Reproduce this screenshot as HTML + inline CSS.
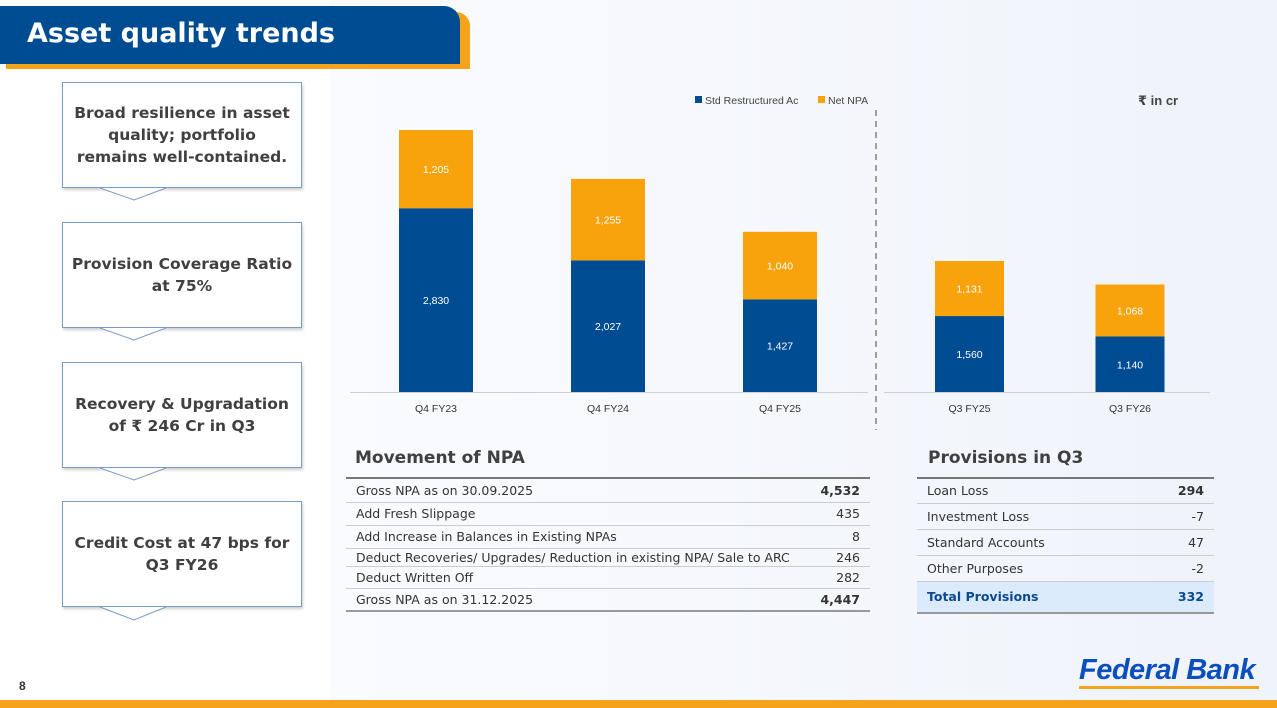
<!DOCTYPE html>
<html><head><meta charset="utf-8">
<style>
body{margin:0;width:1277px;height:708px;overflow:hidden;background:#fff;font-family:"Liberation Sans","DejaVu Sans",sans-serif;position:relative}
.abs{position:absolute}
.bg{left:330px;top:0;width:947px;height:700px;background:linear-gradient(90deg,#fafbfe,#eff3fa)}
.call{position:absolute;left:62px;width:238px;height:104px;border:1px solid #7a9cc4;background:#fff;box-shadow:1px 2px 3px rgba(0,0,0,.2);display:flex;align-items:center;justify-content:center;text-align:center;font-family:"DejaVu Sans",sans-serif;font-weight:bold;font-size:15.5px;line-height:22px;color:#404040}
table{border-collapse:collapse;font-family:"DejaVu Sans",sans-serif;font-size:12.5px;color:#333}
td{padding:0 10px}
h2{margin:0;font-family:"DejaVu Sans",sans-serif;font-size:17px;color:#404040;position:absolute}
</style></head><body>
<div class="abs bg"></div>
<div class="abs" style="left:6px;top:12px;width:464px;height:57px;background:#f5a31a;border-radius:0 14px 0 0"></div>
<div class="abs" style="left:0;top:6px;width:460px;height:58px;background:#004c93;border-radius:0 16px 0 0"></div>
<div class="abs" style="left:27px;top:18px;color:#fff;font-family:'DejaVu Sans',sans-serif;font-weight:bold;font-size:27px">Asset quality trends</div>

<div class="call" style="top:82px">Broad resilience in asset<br>quality; portfolio<br>remains well-contained.</div>
<div class="call" style="top:222px">Provision Coverage Ratio<br>at 75%</div>
<div class="call" style="top:362px">Recovery &amp; Upgradation<br>of ₹ 246 Cr in Q3</div>
<div class="call" style="top:501px">Credit Cost at 47 bps for<br>Q3 FY26</div>
<svg class="abs" style="left:0;top:0" width="330" height="640">
<g fill="#fff" stroke="#7a9cc4" stroke-width="1">
<polyline points="100,188 134,200 166,188"/><polyline points="100,328 134,340 166,328"/><polyline points="100,468 134,480 166,468"/><polyline points="100,607 134,620 166,607"/>
</g></svg>

<svg class="abs" id="chart" style="left:0;top:0" width="1277" height="440"></svg>

<h2 style="left:355px;top:448px">Movement of NPA</h2>
<table class="abs" style="left:346px;top:477px;width:524px;border-top:2px solid #777;border-bottom:2px solid #999">
<tr style="height:24px;border-bottom:1px solid #ccc"><td>Gross NPA as on 30.09.2025</td><td style="text-align:right;font-weight:bold">4,532</td></tr>
<tr style="height:23px;border-bottom:1px solid #ccc"><td>Add Fresh Slippage</td><td style="text-align:right">435</td></tr>
<tr style="height:23px;border-bottom:1px solid #ccc"><td>Add Increase in Balances in Existing NPAs</td><td style="text-align:right">8</td></tr>
<tr style="height:18px;border-bottom:1px solid #ccc"><td>Deduct Recoveries/ Upgrades/ Reduction in existing NPA/ Sale to ARC</td><td style="text-align:right">246</td></tr>
<tr style="height:22px;border-bottom:1px solid #ccc"><td>Deduct Written Off</td><td style="text-align:right">282</td></tr>
<tr style="height:23px"><td>Gross NPA as on 31.12.2025</td><td style="text-align:right;font-weight:bold">4,447</td></tr>
</table>

<h2 style="left:928px;top:448px">Provisions in Q3</h2>
<table class="abs" style="left:917px;top:477px;width:297px;border-top:2px solid #777;border-bottom:2px solid #999">
<tr style="height:25px;border-bottom:1px solid #ccc"><td>Loan Loss</td><td style="text-align:right;font-weight:bold">294</td></tr>
<tr style="height:26px;border-bottom:1px solid #ccc"><td>Investment Loss</td><td style="text-align:right">-7</td></tr>
<tr style="height:26px;border-bottom:1px solid #ccc"><td>Standard Accounts</td><td style="text-align:right">47</td></tr>
<tr style="height:26px;border-bottom:1px solid #ccc"><td>Other Purposes</td><td style="text-align:right">-2</td></tr>
<tr style="height:32px;background:#dcebfb;color:#0b4a8f;font-weight:bold"><td>Total Provisions</td><td style="text-align:right">332</td></tr>
</table>

<div class="abs" style="left:19px;top:679px;font-size:12px;font-weight:bold;color:#333">8</div>
<div class="abs" style="left:1079px;top:654px;white-space:nowrap;font-family:'Liberation Sans',sans-serif;font-style:italic;font-weight:bold;font-size:29px;color:#0a4fbd;letter-spacing:-0.5px">Federal Bank</div>
<div class="abs" style="left:1079px;top:686px;width:180px;height:3px;background:#f5a31a"></div>
<div class="abs" style="left:0;top:700px;width:1277px;height:8px;background:#f5a31a"></div>

<script>
const categories=["Q4 FY23","Q4 FY24","Q4 FY25","Q3 FY25","Q3 FY26"];
const stdRestructured=[2830,2027,1427,1560,1140];
const netNPA=[1205,1255,1040,1131,1068];
const seriesNames=["Std Restructured Ac","Net NPA"];
const colors=["#004c93","#f8a20c"];
const svg=document.getElementById('chart');
const NS='http://www.w3.org/2000/svg';
const base=392;
const scales=[262/4035,262/4035,262/4035,131/2691,131/2691];
const centers=[436,608,780,969.5,1130];
const widths=[74,74,74,69,69];
function mk(t,a){const e=document.createElementNS(NS,t);for(const k in a)e.setAttribute(k,a[k]);svg.appendChild(e);return e;}
function fmt(v){return v.toLocaleString('en-US');}
categories.forEach((c,i)=>{
  const y=v=>base-v*scales[i];
  const x=centers[i]-widths[i]/2;
  const s=stdRestructured[i], n=netNPA[i];
  const b1=mk('rect',{x:x,y:y(s),width:widths[i],height:base-y(s),fill:colors[0]});
  
  
  const b2=mk('rect',{x:x,y:y(s+n),width:widths[i],height:y(s)-y(s+n),fill:colors[1]});
  
  
  const t1=mk('text',{x:centers[i],y:(y(s)+base)/2+4,'text-anchor':'middle','font-size':'10.5',fill:'#fff'});
  t1.textContent=fmt(s);
  
  
  const t2=mk('text',{x:centers[i],y:(y(s+n)+y(s))/2+4,'text-anchor':'middle','font-size':'10.5',fill:'#fff'});
  t2.textContent=fmt(n);
  
  
  const xl=mk('text',{x:centers[i],y:412,'text-anchor':'middle','font-size':'10.5',fill:'#333'});
  xl.textContent=c;
  
  
});
const ax1=mk('line',{x1:350,x2:868,y1:base+0.5,y2:base+0.5,stroke:'#d0d0d0'});


const ax2=mk('line',{x1:884,x2:1210,y1:base+0.5,y2:base+0.5,stroke:'#d0d0d0'});


const dl=mk('line',{x1:876,x2:876,y1:110,y2:430,stroke:'#666','stroke-dasharray':'6,5','stroke-width':1.2});


[[695,seriesNames[0],colors[0]],[818,seriesNames[1],colors[1]]].forEach(([x,t,c],k)=>{
  const r=mk('rect',{x:x,y:96,width:7,height:7,fill:c});
  
  
  const tx=mk('text',{x:x+10,y:104,'font-size':'10.5',fill:'#444'});
  tx.textContent=t;
  
  
});
const u=mk('text',{x:1138,y:105,'font-size':'13','font-weight':'bold',fill:'#444'});
u.textContent='₹ in cr';


</script>
</body></html>
